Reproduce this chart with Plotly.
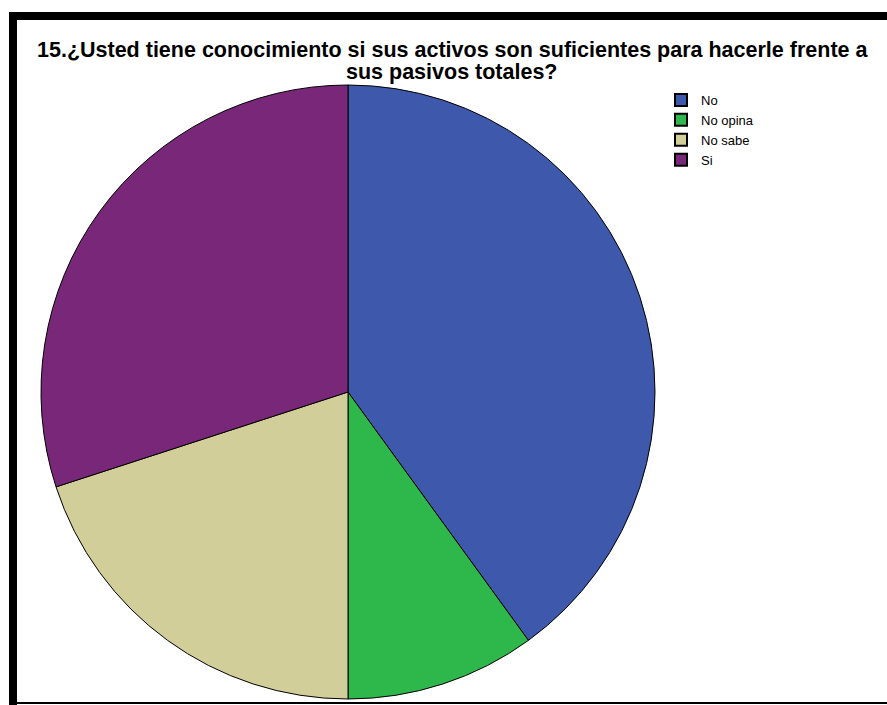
import plotly.graph_objects as go

# Survey answers (percent of respondents)
categories = ["No", "No opina", "No sabe", "Si"]
values = [40, 10, 20, 30]
colors = ["#3e58ac", "#2eb84c", "#d2ce9a", "#792879"]

title_lines = [
    "15.¿Usted tiene conocimiento si sus activos son suficientes para hacerle frente a",
    "sus pasivos totales?",
]

W, H = 887, 705
FONT = "Liberation Sans, Arial, sans-serif"


def px_x(x):
    return x / W


def px_y(y):
    return 1 - y / H


cx, cy, r = 348, 392, 307

fig = go.Figure(go.Pie(
    labels=categories,
    values=values,
    sort=False,
    direction="clockwise",
    rotation=0,
    marker=dict(colors=colors, line=dict(color="#000000", width=1)),
    textinfo="none",
    hoverinfo="label+percent",
    domain=dict(x=[px_x(cx - r), px_x(cx + r)], y=[px_y(cy + r), px_y(cy - r)]),
))

frame = [
    # thick left and top border
    dict(type="rect", x0=px_x(9), x1=px_x(17), y0=px_y(705), y1=px_y(12)),
    dict(type="rect", x0=px_x(9), x1=px_x(887), y0=px_y(20), y1=px_y(12)),
    # thin bottom border
    dict(type="rect", x0=px_x(9), x1=px_x(887), y0=px_y(704), y1=px_y(702)),
]
shapes = [dict(s, xref="paper", yref="paper", fillcolor="#000000",
               line=dict(width=0), layer="above") for s in frame]

# two-line title, set as separate lines to keep the tight line spacing
title_y = [50, 72]
annotations = [
    dict(text=f"<b>{line}</b>", x=px_x(452), y=px_y(yy), xref="paper", yref="paper",
         xanchor="center", yanchor="middle", showarrow=False,
         font=dict(size=21.5, family=FONT, color="#000000"))
    for line, yy in zip(title_lines, title_y)
]

fig.update_layout(
    width=W, height=H,
    margin=dict(l=0, r=0, t=0, b=0),
    paper_bgcolor="#ffffff",
    plot_bgcolor="#ffffff",
    font=dict(family=FONT, color="#000000"),
    showlegend=True,
    legend=dict(
        x=px_x(661), y=px_y(85), xanchor="left", yanchor="top",
        font=dict(size=13, family=FONT),
        itemsizing="constant",
        tracegroupgap=0,
        bgcolor="rgba(0,0,0,0)",
    ),
    shapes=shapes,
    annotations=annotations,
)

fig.write_html("out.html")
